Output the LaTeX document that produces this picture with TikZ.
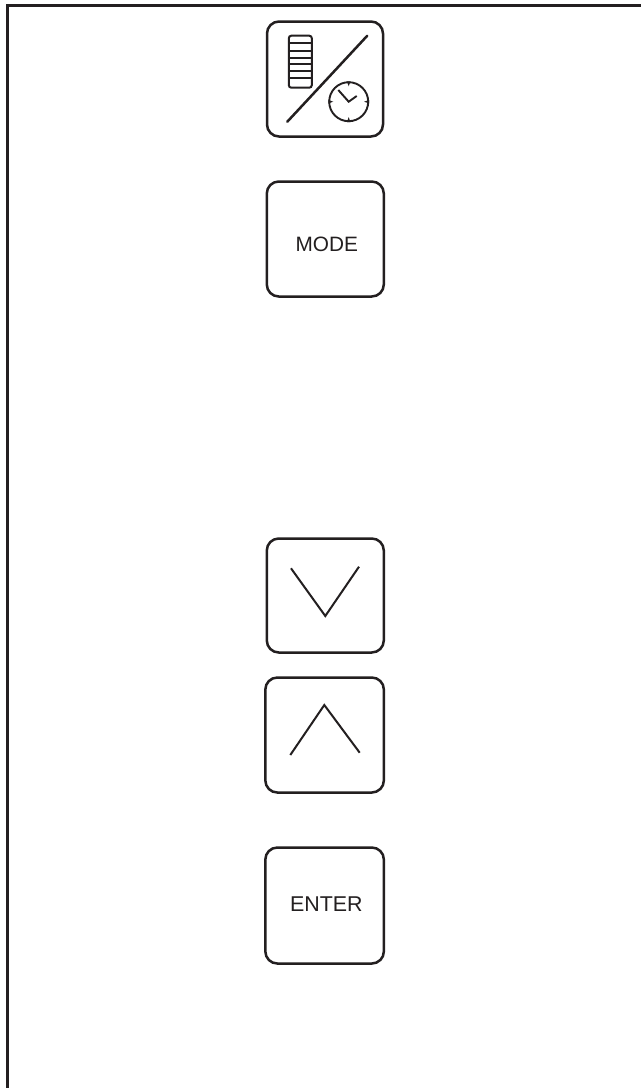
\documentclass[tikz,border=0pt]{standalone}
\usepackage{fontspec}
\setmainfont{Liberation Sans}
\definecolor{ink}{RGB}{35,31,32}
\tikzset{
  keybox/.style={draw=ink,line width=2.5pt,rounded corners=12pt,inner sep=0pt,fill=white},
  glyph/.style={draw=ink,line width=2pt},
  keytext/.style={text=ink,inner sep=0pt,font=\fontsize{20.8}{24}\selectfont}
}
\begin{document}
\begin{tikzpicture}[x=1pt,y=-1pt]
\useasboundingbox (0,0) rectangle (641,1088);
\fill[white] (0,0) rectangle (641,1088);
\coordinate (fa) at (7.3,1088);
\coordinate (fb) at (7.3,5.6);
\coordinate (fc) at (641,5.6);
\draw[draw=ink,line width=3.4pt] (fa) -- (fb) -- (fc);
% keys
\node[keybox,minimum width=116pt,minimum height=115pt] (k1) at (325,79) {};
\node[keybox,minimum width=117pt,minimum height=115pt] (k2) at (325.3,239) {};
\node[keybox,minimum width=117pt,minimum height=114pt] (k3) at (325.3,595.5) {};
\node[keybox,minimum width=118.5pt,minimum height=115pt] (k4) at (324.6,735) {};
\node[keybox,minimum width=118.5pt,minimum height=116pt] (k5) at (324.6,905.5) {};
% labels
\node[keytext] (mode) at (326.7,244) {MODE};
\node[keytext,font=\fontsize{21.4}{24}\selectfont] (enter) at (326.3,904.5) {ENTER};
% chevrons
\coordinate (d1) at (291,568.3);
\coordinate (d2) at (325.3,616);
\coordinate (d3) at (359,566.7);
\draw[glyph,miter limit=10] (d1) -- (d2) -- (d3);
\coordinate (u1) at (290.3,755);
\coordinate (u2) at (324.3,705);
\coordinate (u3) at (359.7,752.7);
\draw[glyph,miter limit=10] (u1) -- (u2) -- (u3);
% icon: slash
\coordinate (s1) at (287.3,121.7);
\coordinate (s2) at (367.3,35.7);
\draw[draw=ink,line width=2.5pt,line cap=round] (s1) -- (s2);
% icon: bars
\node[draw=ink,line width=2pt,rounded corners=2.5pt,minimum width=23pt,minimum height=52pt,inner sep=0pt] (bars) at (300.3,61.7) {};
\foreach \yy in {43.3,50.7,57.7,64.3,71,78.3}
  \draw[draw=ink,line width=1.7pt] (289,\yy) -- (311.6,\yy);
% icon: clock
\node[circle,draw=ink,line width=1.9pt,minimum size=39pt,inner sep=0pt] (clock) at (348.7,101.7) {};
\coordinate (h1) at (338.3,90);
\coordinate (h2) at (348.7,101.7);
\coordinate (h3) at (356.7,96);
\draw[draw=ink,line width=1.9pt] (h1) -- (h2) -- (h3);
\fill[ink] (clock.north)++(-1.8,0) -- ++(3.6,0) -- ++(-1.8,5) -- cycle;
\fill[ink] (clock.south)++(-1.8,0) -- ++(3.6,0) -- ++(-1.8,-5) -- cycle;
\fill[ink] (clock.west)++(0,-1.8) -- ++(0,3.6) -- ++(5,-1.8) -- cycle;
\fill[ink] (clock.east)++(0,-1.8) -- ++(0,3.6) -- ++(-5,-1.8) -- cycle;
\end{tikzpicture}
\end{document}
